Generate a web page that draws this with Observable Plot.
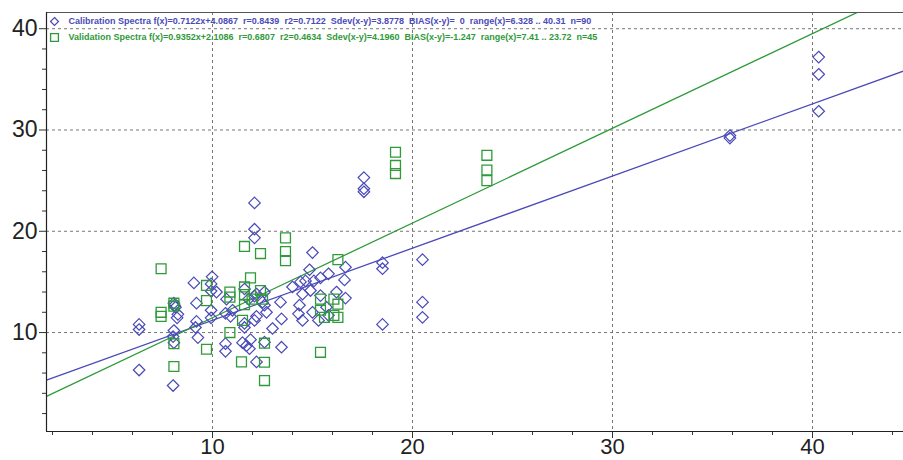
<!DOCTYPE html>
<html><head><meta charset="utf-8">
<script src="https://cdn.jsdelivr.net/npm/d3@7"></script>
<script src="https://cdn.jsdelivr.net/npm/@observablehq/plot@0.6"></script>
<style>html,body{margin:0;padding:0;background:#fff}#chart svg{display:block}</style>
</head><body><div id="chart"></div>
<script>
// Calibration spectra (diamonds)
const calX = [6.33,6.33,6.33,9.07,9.98,9.93,9.93,8.07,8.15,8.23,8.27,8.07,8.03,8.07,8.03,9.2,9.15,9.27,9.93,9.93,
  10.7,10.65,10.65,10.65,12.1,12.1,12.1,11.6,11.8,12.2,12.5,12.6,12.7,12.2,11.6,11.6,11.9,11.7,11.85,12.2,
  12.6,13.4,13.45,13.45,15.0,14.85,14.4,14.65,15.07,15.4,15.8,14.5,14.9,14.35,14.3,14.5,15.0,15.3,17.57,17.57,
  17.57,18.5,18.5,18.5,20.5,20.5,20.5,16.65,16.6,16.65,15.4,15.7,15.8,40.31,40.31,40.31,35.87,35.87,12.1,10.2,
  9.2,12.6,11.0,10.9,8.1,12.1,14.0,16.2,11.5,13.0];
const calY = [10.8,10.3,6.3,14.9,15.5,14.8,14.1,12.9,12.5,11.45,11.8,10.2,9.6,9.0,4.77,11.1,10.5,9.5,12.2,11.45,
  13.3,11.9,8.9,8.15,22.8,20.2,19.35,14.3,13.3,13.8,13.0,12.7,12.0,11.6,10.9,10.5,9.3,8.7,8.4,7.1,
  9.05,13.0,11.35,8.55,17.9,16.2,15.0,15.1,15.1,15.4,15.8,13.8,14.15,12.7,11.85,11.2,12.0,11.2,25.3,24.2,
  23.9,16.9,16.3,10.8,17.2,13.0,11.5,16.45,15.2,13.4,13.65,12.5,11.7,37.2,35.5,31.85,29.45,29.2,13.6,14.0,
  12.9,14.0,12.2,11.6,12.7,11.2,14.5,14.0,9.0,10.4];
// Validation spectra (squares)
const valX = [7.43,7.43,7.43,8.07,8.07,8.07,9.7,9.7,9.7,10.87,10.87,10.87,11.6,11.45,12.4,13.65,13.65,13.65,11.9,11.6,
  11.6,11.98,12.4,12.5,11.6,11.5,12.6,12.6,12.6,15.4,15.4,15.4,16.07,16.07,16.27,16.27,16.27,19.15,19.15,19.15,
  23.72,23.72,23.72,15.6,8.07];
const valY = [16.3,12.0,11.6,12.9,8.9,6.65,14.65,13.15,8.35,14.0,13.5,10.0,18.5,7.1,17.8,19.35,18.0,17.1,15.4,14.5,
  13.75,13.3,14.15,13.3,12.75,11.2,8.95,7.07,5.26,13.3,12.2,8.05,13.3,11.7,17.2,12.8,11.5,27.8,26.5,25.7,
  27.5,26.05,25.0,11.5,12.6];
// Fitted lines f(x) = slope*x + intercept
const fitNames = ["Calibration", "Validation"];
const fitSlopes = [0.7122, 0.9352];
const fitIntercepts = [4.0867, 2.1086];
const legendLabels = [
  "Calibration Spectra f(x)=0.7122x+4.0867  r=0.8439  r2=0.7122  Sdev(x-y)=3.8778  BIAS(x-y)=  0  range(x)=6.328 .. 40.31  n=90",
  "Validation Spectra f(x)=0.9352x+2.1086  r=0.6807  r2=0.4634  Sdev(x-y)=4.1960  BIAS(x-y)=-1.247  range(x)=7.41 .. 23.72  n=45"
];
const majorTicks = [10, 20, 30, 40];
const xDomain = [1.7, 44.55];
const yDomain = [0.23, 41.6];

const BLUE = "#4a4ab8", GREEN = "#2f9a3a";
const cal = calX.map((x, i) => ({x, y: calY[i]}));
const val = valX.map((x, i) => ({x, y: valY[i]}));
const fitLines = fitNames.flatMap((n, i) => xDomain.map(x => ({name: n, x, y: fitSlopes[i] * x + fitIntercepts[i]})));
const minorX = d3.range(2, 45, 2).filter(v => v % 10 !== 0);
const minorY = d3.range(2, 41, 2).filter(v => v % 10 !== 0);
const FONT = "'Liberation Sans', Arial, sans-serif";
const noLabel = () => "";

const plot = Plot.plot({
  width: 903, height: 460,
  marginLeft: 46, marginTop: 12, marginBottom: 29, marginRight: 0,
  style: {fontFamily: FONT, background: "#fff"},
  x: {domain: xDomain},
  y: {domain: yDomain},
  color: {domain: fitNames, range: [BLUE, GREEN]},
  marks: [
    Plot.gridX(majorTicks, {stroke: "#777", strokeOpacity: 1, strokeDasharray: "3,3"}),
    Plot.gridY(majorTicks, {stroke: "#777", strokeOpacity: 1, strokeDasharray: "3,3"}),
    Plot.line(fitLines, {x: "x", y: "y", z: "name", stroke: d => d.name, strokeWidth: 1.3, clip: true}),
    Plot.dot(cal, {x: "x", y: "y", symbol: "diamond2", r: 5.2, stroke: BLUE, strokeWidth: 1.2, fill: "none"}),
    Plot.dot(val, {x: "x", y: "y", symbol: "square2", r: 6.3, stroke: GREEN, strokeWidth: 1.3, fill: "none"}),
    Plot.axisX(majorTicks, {tickSize: 7, tickPadding: 0, fontSize: 22, stroke: "#333", fill: "#222", label: null}),
    Plot.axisX(minorX, {tickSize: 4, tickFormat: noLabel, stroke: "#333", label: null}),
    Plot.axisY(majorTicks, {tickSize: 7, tickPadding: 2, fontSize: 23, stroke: "#333", fill: "#222", label: null}),
    Plot.axisY(minorY, {tickSize: 4, tickFormat: noLabel, stroke: "#333", label: null}),
    Plot.ruleY([yDomain[0]], {stroke: "#222", strokeWidth: 1.2}),
    Plot.ruleY([yDomain[1]], {stroke: "#555", strokeWidth: 1}),
    Plot.ruleX([xDomain[0]], {stroke: "#222", strokeWidth: 1.2}),
    Plot.dot([legendLabels[0]], {frameAnchor: "top-left", dx: 8, dy: 9, symbol: "diamond2", r: 3.6, stroke: BLUE, strokeWidth: 1.2, fill: "none"}),
    Plot.dot([legendLabels[1]], {frameAnchor: "top-left", dx: 8, dy: 25, symbol: "square2", r: 5, stroke: GREEN, strokeWidth: 1.3, fill: "none"}),
    Plot.text([legendLabels[0]], {text: d => d, frameAnchor: "top-left", dx: 22, dy: 9, textAnchor: "start", lineAnchor: "middle", fontSize: 9, fontWeight: "bold", fill: BLUE}),
    Plot.text([legendLabels[1]], {text: d => d, frameAnchor: "top-left", dx: 22, dy: 25, textAnchor: "start", lineAnchor: "middle", fontSize: 9, fontWeight: "bold", fill: GREEN})
  ]
});
document.getElementById("chart").appendChild(plot);
</script>
</body></html>
